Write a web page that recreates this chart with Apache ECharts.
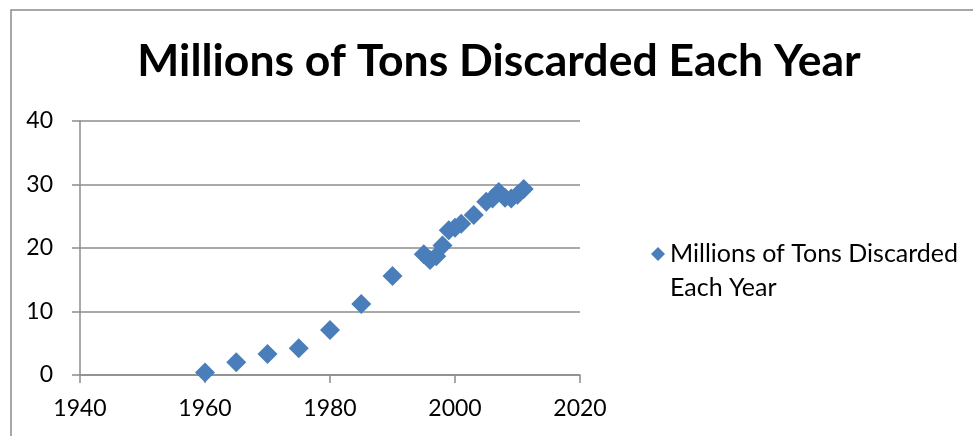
<!DOCTYPE html>
<html>
<head>
<meta charset="utf-8">
<script src="https://cdn.jsdelivr.net/npm/echarts@6/dist/echarts.min.js"></script>
<style>
  html, body { margin: 0; padding: 0; background: #ffffff; }
  #chart { width: 973px; height: 436px; }
</style>
</head>
<body>
<div id="chart"></div>
<script>
// Municipal waste discarded per year, millions of tons
const years = [1960, 1965, 1970, 1975, 1980, 1985, 1990, 1995, 1996, 1997, 1998, 1999, 2000, 2001, 2003, 2005, 2006, 2007, 2008, 2009, 2010, 2011];
const tons  = [0.4, 2.0, 3.3, 4.2, 7.1, 11.2, 15.6, 19.0, 18.1, 18.7, 20.4, 22.8, 23.2, 23.8, 25.2, 27.3, 27.8, 28.8, 27.9, 27.8, 28.4, 29.3];
const seriesName = 'Millions of Tons Discarded Each Year';
const chartTitle = 'Millions of Tons Discarded Each Year';
// legend text wraps after "Discarded"; the leading blank line keeps the
// marker level with the first line of the wrapped label
const legendLines = [' ', 'Millions of Tons Discarded', 'Each Year'];

const points = years.map((y, i) => [y, tons[i]]);
const gray = '#8c8c8c';
const blue = '#4a7ebb';
const font = 'Lato, "Open Sans", sans-serif';

const chart = echarts.init(document.getElementById('chart'));
chart.setOption({
  animation: false,
  backgroundColor: '#ffffff',
  title: {
    text: chartTitle,
    left: 494,
    textAlign: 'center',
    top: 34,
    textStyle: { fontFamily: font, fontWeight: 'bold', fontSize: 44.5, color: '#000000' }
  },
  legend: {
    left: 646,
    top: 198,
    orient: 'vertical',
    icon: 'diamond',
    itemWidth: 14,
    itemHeight: 14,
    formatter: () => legendLines.join('\n'),
    textStyle: { fontFamily: font, fontSize: 25, color: '#000000', lineHeight: 34 },
    data: [seriesName]
  },
  grid: { left: 80, right: 393, top: 121, bottom: 61, containLabel: false },
  xAxis: {
    type: 'value',
    min: 1940,
    max: 2020,
    interval: 20,
    axisLine: { show: true, lineStyle: { color: gray, width: 1.5 } },
    axisTick: { show: true, inside: false, length: 8, lineStyle: { color: gray, width: 1.5 } },
    axisLabel: { fontFamily: font, fontSize: 23, color: '#000000', margin: 22, formatter: v => String(v) },
    splitLine: { show: false }
  },
  yAxis: {
    type: 'value',
    min: 0,
    max: 40,
    interval: 10,
    axisLine: { show: true, lineStyle: { color: gray, width: 1.5 } },
    axisTick: { show: true, inside: false, length: 8, lineStyle: { color: gray, width: 1.5 } },
    axisLabel: { fontFamily: font, fontSize: 23, color: '#000000', margin: 27 },
    splitLine: { show: true, lineStyle: { color: gray, width: 1.5 } }
  },
  series: [{
    name: seriesName,
    type: 'scatter',
    symbol: 'diamond',
    symbolSize: 20,
    itemStyle: { color: blue, opacity: 1 },
    data: points
  }],
  graphic: [{
    type: 'rect',
    shape: { x: 11, y: 10, width: 1000, height: 500 },
    style: { fill: null, stroke: '#8a8a8a', lineWidth: 1.5 },
    silent: true
  }]
});
</script>
</body>
</html>
